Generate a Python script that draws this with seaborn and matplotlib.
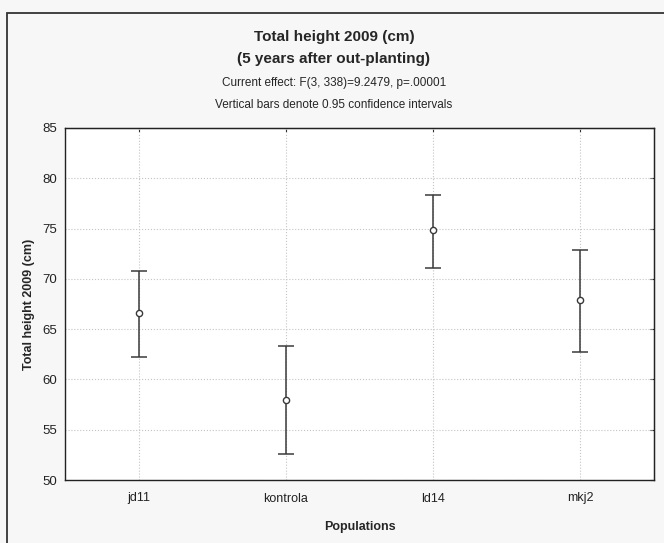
import matplotlib
matplotlib.use('Agg')
import matplotlib.pyplot as plt
import seaborn as sns
import pandas as pd
from matplotlib.patches import Rectangle

populations = ['jd11', 'kontrola', 'ld14', 'mkj2']
means = [66.6, 58.0, 74.85, 67.9]
ci_low = [62.2, 52.6, 71.1, 62.7]
ci_high = [70.8, 63.3, 78.3, 72.9]
yticks = [50, 55, 60, 65, 70, 75, 80, 85]

df = pd.DataFrame({'Populations': populations, 'Height': means,
                   'low': ci_low, 'high': ci_high})

sns.set_style('white')
plt.rcParams['font.family'] = ['Liberation Sans', 'DejaVu Sans']

fig = plt.figure(figsize=(6.64, 5.43), dpi=100, facecolor='#f7f7f7')
ax = fig.add_axes([65/664, 1 - 480/543, (654 - 65)/664, (480 - 128)/543])
ax.set_facecolor('white')

# outer frame (only left and top edges are visible)
fig.patches.append(Rectangle((7/664, -0.2), 1.2, 1 - 13/543 + 0.2, transform=fig.transFigure,
                             fill=False, edgecolor='#333333', lw=1.3))

err = [df['Height'] - df['low'], df['high'] - df['Height']]
ax.errorbar(x=range(len(df)), y=df['Height'], yerr=err, fmt='none',
            ecolor='#3a3a3a', elinewidth=1.1, capsize=5.6, capthick=1.1, zorder=3)
sns.scatterplot(data=df, x='Populations', y='Height', ax=ax, marker='o', s=20,
                facecolor='white', edgecolor='#3a3a3a', linewidth=1.0, zorder=4)

ax.set_xlim(-0.5, 3.5)
ax.set_ylim(50, 85)
ax.set_yticks(yticks)
ax.set_xticks(range(len(populations)))
ax.set_xticklabels(populations)
ax.grid(True, color='#c4c4c4', linestyle=':', linewidth=0.8)
ax.set_axisbelow(True)
for s in ax.spines.values():
    s.set_color('#222222')
    s.set_linewidth(1.0)

ax.tick_params(axis='both', direction='out', length=3, width=0.8, color='#222222',
               labelsize=9.5, labelcolor='#222222', pad=3)
ax.tick_params(axis='x', pad=6, labelsize=9)

sy = ax.secondary_yaxis('right')
sy.set_yticks(yticks)
sy.tick_params(direction='in', length=3, width=0.8, labelright=False)
sx = ax.secondary_xaxis('top')
sx.set_xticks(range(len(populations)))
sx.tick_params(direction='in', length=3, width=0.8, labeltop=False)

ax.set_xlabel('Populations', fontsize=9, fontweight='bold', labelpad=12)
ax.set_ylabel('Total height 2009 (cm)', fontsize=9, fontweight='bold', labelpad=5)

fig.text(0.503, 1 - 37/543, 'Total height 2009 (cm)', ha='center', va='center',
         fontsize=11, fontweight='bold')
fig.text(0.503, 1 - 59/543, '(5 years after out-planting)', ha='center', va='center',
         fontsize=11, fontweight='bold')
fig.text(0.503, 1 - 83/543, 'Current effect: F(3, 338)=9.2479, p=.00001', ha='center',
         va='center', fontsize=8.5)
fig.text(0.503, 1 - 105/543, 'Vertical bars denote 0.95 confidence intervals', ha='center',
         va='center', fontsize=8.5)

fig.savefig('out.png', dpi=100, facecolor=fig.get_facecolor())
